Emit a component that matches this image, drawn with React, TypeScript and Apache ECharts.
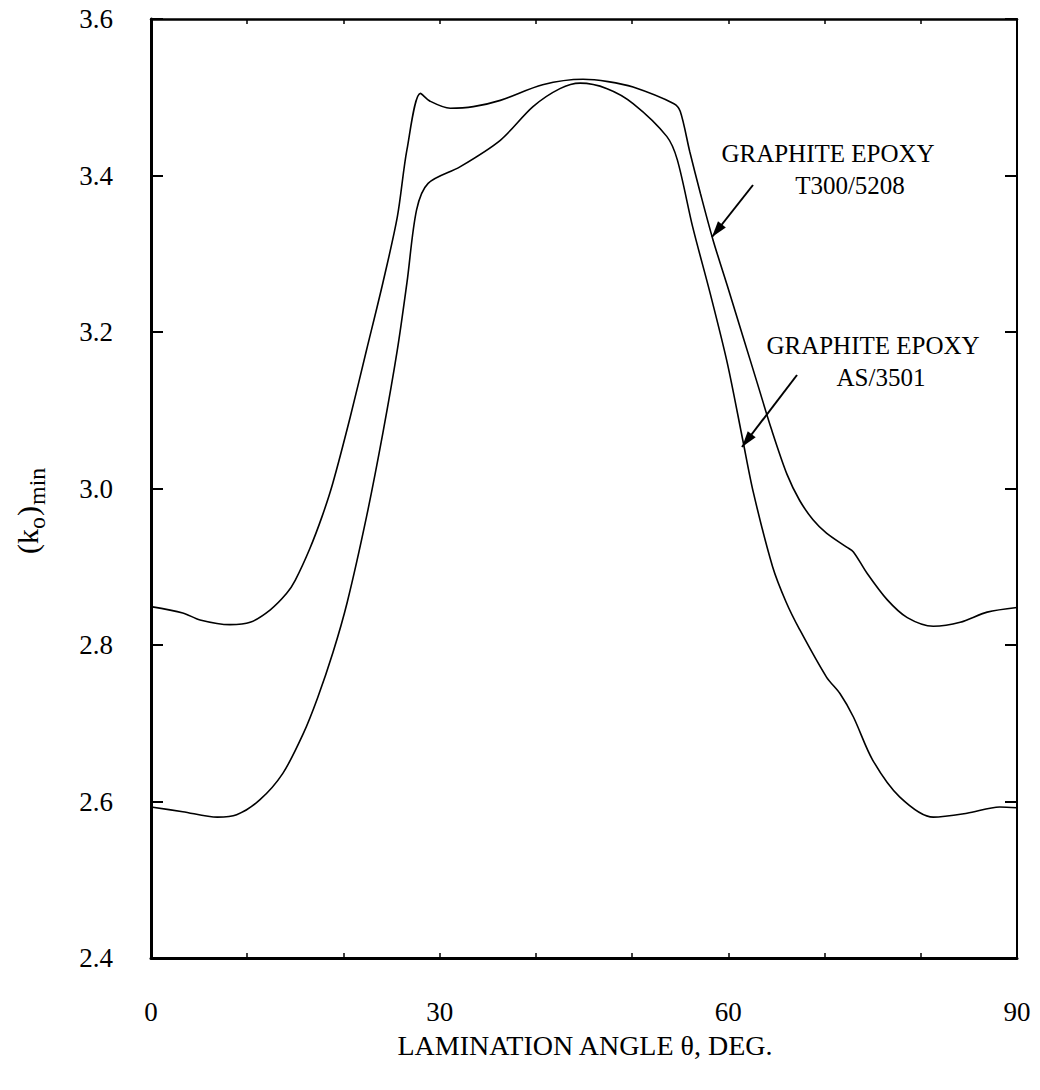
import React, { useEffect, useRef } from "react";
import * as echarts from "echarts";

// Lamination angle (deg) and (k_o)_min
const t300Angle = [0, 3.3, 5.1, 8.2, 10.3, 12.4, 14.1, 15.0, 16.5, 17.8, 18.9, 20.7, 22.4, 24.1, 25.6, 26.6, 28.0, 29.0, 31.1, 33.5, 36.3, 40.7, 44.9, 47.5, 50.1, 54.3, 55.0, 56.0, 57.1, 58.4, 60.0, 61.5, 63.0, 64.5, 66.1, 67.4, 68.8, 70.2, 72.3, 73.0, 74.4, 76.5, 78.6, 81.3, 84.1, 86.9, 90];
const t300K = [2.849, 2.841, 2.832, 2.826, 2.829, 2.845, 2.866, 2.883, 2.923, 2.965, 3.007, 3.091, 3.177, 3.263, 3.347, 3.433, 3.505, 3.495, 3.486, 3.488, 3.496, 3.516, 3.523, 3.520, 3.513, 3.492, 3.482, 3.430, 3.377, 3.318, 3.255, 3.195, 3.135, 3.075, 3.018, 2.985, 2.960, 2.943, 2.925, 2.919, 2.892, 2.858, 2.835, 2.824, 2.829, 2.842, 2.848];

const as3501Angle = [0, 3.3, 6.9, 8.9, 11.3, 13.7, 15.8, 17.3, 18.9, 20.4, 22.4, 24.1, 25.6, 26.6, 27.6, 28.8, 32.1, 36.3, 39.7, 42.5, 44.6, 47.4, 50.1, 53.6, 54.7, 56.3, 58.1, 59.9, 61.5, 62.6, 64.6, 66.0, 67.4, 70.2, 71.6, 73.0, 75.0, 77.8, 81.3, 84.8, 88.2, 90];
const as3501K = [2.593, 2.587, 2.580, 2.583, 2.602, 2.636, 2.686, 2.732, 2.790, 2.855, 2.964, 3.071, 3.177, 3.263, 3.356, 3.390, 3.411, 3.445, 3.488, 3.511, 3.518, 3.511, 3.492, 3.450, 3.420, 3.334, 3.250, 3.160, 3.062, 2.995, 2.900, 2.855, 2.820, 2.759, 2.738, 2.708, 2.653, 2.606, 2.580, 2.585, 2.593, 2.592];

const xLabels = [0, 30, 60, 90];
const seriesNames = ["GRAPHITE EPOXY T300/5208", "GRAPHITE EPOXY AS/3501"];

const FONT = "Liberation Serif";

function zip(a: number[], b: number[]) {
  return a.map((v, i) => [v, b[i]]);
}

function arrowHead(sx: number, sy: number, tx: number, ty: number, len = 16, hw = 5) {
  const dx = tx - sx;
  const dy = ty - sy;
  const L = Math.sqrt(dx * dx + dy * dy);
  const ux = dx / L;
  const uy = dy / L;
  const bx = tx - len * ux;
  const by = ty - len * uy;
  const nx = -uy;
  const ny = ux;
  return [
    [tx, ty],
    [bx + hw * nx, by + hw * ny],
    [bx - hw * nx, by - hw * ny],
  ];
}

export default function App() {
  const ref = useRef<HTMLDivElement>(null);

  useEffect(() => {
    if (!ref.current) return;
    const chart = echarts.init(ref.current, null, { renderer: "svg" });

    const axisCommonX = (pos: "bottom" | "top", showLabel: boolean, lw: number) => ({
      type: "value",
      position: pos,
      min: 0,
      max: 90,
      interval: 10,
      axisLine: { show: true, onZero: false, lineStyle: { color: "#000", width: lw } },
      axisTick: { show: true, inside: true, length: 5, lineStyle: { color: "#000", width: 1.5 } },
      axisLabel: {
        show: showLabel,
        margin: 40,
        fontSize: 27,
        color: "#000",
        fontFamily: FONT,
        formatter: (v: number) => (xLabels.indexOf(Math.round(v)) >= 0 ? String(Math.round(v)) : ""),
      },
      splitLine: { show: false },
    });

    const axisCommonY = (pos: "left" | "right", showLabel: boolean, lw: number) => ({
      type: "value",
      position: pos,
      min: 2.4,
      max: 3.6,
      interval: 0.2,
      axisLine: { show: true, onZero: false, lineStyle: { color: "#000", width: lw } },
      axisTick: { show: true, inside: true, length: 12, lineStyle: { color: "#000", width: 2 } },
      axisLabel: {
        show: showLabel,
        margin: 38,
        fontSize: 27,
        color: "#000",
        fontFamily: FONT,
        formatter: (v: number) => v.toFixed(1),
      },
      splitLine: { show: false },
    });

    const a1 = { sx: 753, sy: 185, tx: 712, ty: 237 };
    const a2 = { sx: 797, sy: 375, tx: 742, ty: 447 };
    const txt = (text: string, x: number, y: number, size = 25) => ({
      type: "text",
      x,
      y,
      style: { text, font: `${size}px "${FONT}"`, fill: "#000", align: "center", verticalAlign: "middle" },
    });

    const option: any = {
      animation: false,
      backgroundColor: "#ffffff",
      textStyle: { fontFamily: FONT },
      grid: { left: 151, right: 23, top: 19, bottom: 132, containLabel: false },
      xAxis: [axisCommonX("bottom", true, 3), axisCommonX("top", false, 2.5)],
      yAxis: [axisCommonY("left", true, 3), axisCommonY("right", false, 2)],
      series: [
        {
          name: seriesNames[0],
          type: "line",
          xAxisIndex: 0,
          yAxisIndex: 0,
          data: zip(t300Angle, t300K),
          showSymbol: false,
          smooth: 0.3,
          lineStyle: { color: "#000", width: 1.6 },
        },
        {
          name: seriesNames[1],
          type: "line",
          xAxisIndex: 0,
          yAxisIndex: 0,
          data: zip(as3501Angle, as3501K),
          showSymbol: false,
          smooth: 0.3,
          lineStyle: { color: "#000", width: 1.6 },
        },
      ],
      graphic: [
        txt("GRAPHITE EPOXY", 828, 153),
        txt("T300/5208", 850, 185),
        txt("GRAPHITE EPOXY", 873, 345),
        txt("AS/3501", 881, 377),
        {
          type: "line",
          shape: { x1: a1.sx, y1: a1.sy, x2: a1.tx, y2: a1.ty },
          style: { stroke: "#000", lineWidth: 2 },
        },
        {
          type: "polygon",
          shape: { points: arrowHead(a1.sx, a1.sy, a1.tx, a1.ty) },
          style: { fill: "#000" },
        },
        {
          type: "line",
          shape: { x1: a2.sx, y1: a2.sy, x2: a2.tx, y2: a2.ty },
          style: { stroke: "#000", lineWidth: 2 },
        },
        {
          type: "polygon",
          shape: { points: arrowHead(a2.sx, a2.sy, a2.tx, a2.ty) },
          style: { fill: "#000" },
        },
        txt("LAMINATION ANGLE θ, DEG.", 585, 1045, 28),
        {
          type: "group",
          x: 27,
          y: 510,
          rotation: Math.PI / 2,
          children: [
            {
              type: "text",
              x: -44,
              y: 0,
              style: { text: "(k", font: `30px "${FONT}"`, fill: "#000", verticalAlign: "middle", align: "left" },
            },
            {
              type: "text",
              x: -19,
              y: 10,
              style: { text: "o", font: `24px "${FONT}"`, fill: "#000", verticalAlign: "middle", align: "left" },
            },
            {
              type: "text",
              x: -6,
              y: 0,
              style: { text: ")", font: `30px "${FONT}"`, fill: "#000", verticalAlign: "middle", align: "left" },
            },
            {
              type: "text",
              x: 5,
              y: 10,
              style: { text: "min", font: `24px "${FONT}"`, fill: "#000", verticalAlign: "middle", align: "left" },
            },
          ],
        },
      ],
    };

    chart.setOption(option);
    return () => {
      chart.dispose();
    };
  }, []);

  return (
    <div
      ref={ref}
      style={{ position: "fixed", left: 0, top: 0, width: 1040, height: 1090, background: "#fff" }}
    />
  );
}
